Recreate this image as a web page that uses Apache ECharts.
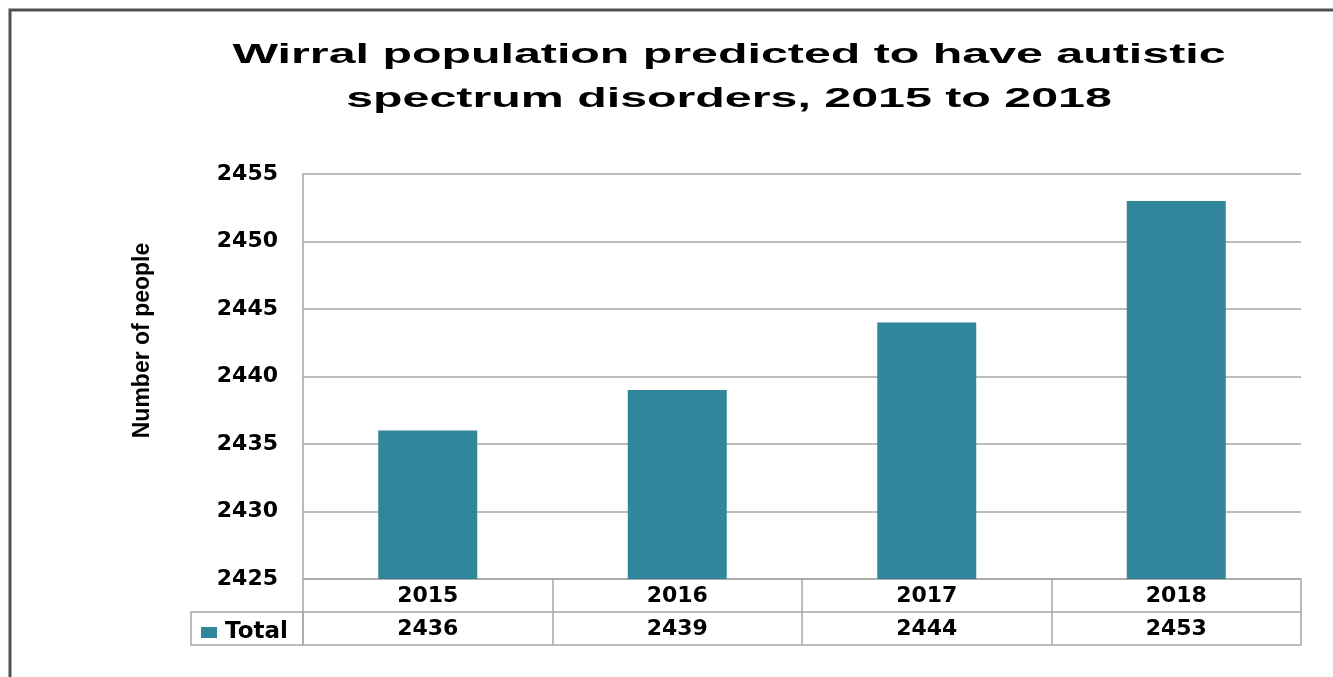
<!DOCTYPE html>
<html>
<head>
<meta charset="utf-8">
<script src="https://cdn.jsdelivr.net/npm/echarts@6/dist/echarts.min.js"></script>
<style>
html,body{margin:0;padding:0;background:#fff;}
#chart{width:1333px;height:677px;}
</style>
</head>
<body>
<div id="chart"></div>
<script>
const titleLines = ['Wirral population predicted to have autistic', 'spectrum disorders, 2015 to 2018'];
const categories = ['2015', '2016', '2017', '2018'];
const totals = [2436, 2439, 2444, 2453];
const seriesName = 'Total';
const yMin = 2425, yMax = 2455, yStep = 5;
const yAxisName = 'Number of people';

const gridLeft = 303, gridRight = 32, gridTop = 174, gridBottom = 98;
const rowH = 33;
const lineColor = '#a6a6a6';
const font = '"Liberation Sans", Arial, sans-serif';
const wideFont = '"DejaVu Sans", Verdana, sans-serif';
const labelStyle = {fontFamily: wideFont, fontWeight: 'bold', fontSize: 22, color: '#000'};

const chart = echarts.init(document.getElementById('chart'));
const option = {
  animation: false,
  backgroundColor: '#fff',
  legend: {
    data: [seriesName],
    left: 196, top: 616,
    icon: 'rect', itemWidth: 16, itemHeight: 11, itemGap: 10,
    textStyle: Object.assign({}, labelStyle, {fontSize: 23, padding: [0, 0, 0, 3]})
  },
  grid: {left: gridLeft, right: gridRight, top: gridTop, bottom: gridBottom},
  xAxis: [
    {
      type: 'category', data: categories, position: 'bottom',
      axisLine: {show: true, lineStyle: {color: lineColor, width: 1.5}},
      axisTick: {show: true, length: rowH * 2, lineStyle: {color: lineColor, width: 1.5}},
      axisLabel: Object.assign({margin: 6}, labelStyle)
    },
    {
      type: 'category', data: categories, position: 'bottom', offset: rowH,
      axisLine: {show: true, lineStyle: {color: lineColor, width: 1.5}},
      axisTick: {show: false},
      axisLabel: Object.assign({margin: 6, formatter: (v, i) => String(totals[i])}, labelStyle)
    },
    {
      type: 'category', data: categories, position: 'bottom', offset: rowH * 2,
      axisLine: {show: true, lineStyle: {color: lineColor, width: 1.5}},
      axisTick: {show: false}, axisLabel: {show: false}
    }
  ],
  yAxis: {
    type: 'value', min: yMin, max: yMax, interval: yStep,
    name: yAxisName, nameLocation: 'middle', nameGap: 149, nameRotate: 90,
    nameTextStyle: {fontFamily: font, fontWeight: 'bold', fontSize: 23, color: '#000', padding: [0, 0, 0, 72]},
    axisLine: {show: true, lineStyle: {color: lineColor, width: 1.5}},
    axisTick: {show: false},
    axisLabel: Object.assign({margin: 25, formatter: v => String(v)}, labelStyle),
    splitLine: {show: true, lineStyle: {color: lineColor, width: 1.5}}
  },
  series: [{
    name: seriesName, type: 'bar', data: totals, barWidth: 99,
    itemStyle: {color: '#31869b'}
  }],
  graphic: [
    {type: 'rect', shape: {x: 10, y: 10, width: 1400, height: 700}, silent: true, z: 100,
      style: {fill: null, stroke: '#505050', lineWidth: 3}},
    {type: 'rect', shape: {x: 191, y: 677 - gridBottom + rowH, width: gridLeft - 191, height: rowH}, silent: true, z: 5,
      style: {fill: null, stroke: lineColor, lineWidth: 1.5}},
    {type: 'text', x: 729, y: 69, scaleX: 1.79, silent: true,
      style: {text: titleLines[0], fontFamily: font, fontWeight: 'bold', fontSize: 27, fill: '#000',
        textAlign: 'center', textVerticalAlign: 'bottom', verticalAlign: 'bottom'}},
    {type: 'text', x: 729, y: 113, scaleX: 1.79, silent: true,
      style: {text: titleLines[1], fontFamily: font, fontWeight: 'bold', fontSize: 27, fill: '#000',
        textAlign: 'center', textVerticalAlign: 'bottom', verticalAlign: 'bottom'}}
  ]
};
chart.setOption(option);
</script>
</body>
</html>
